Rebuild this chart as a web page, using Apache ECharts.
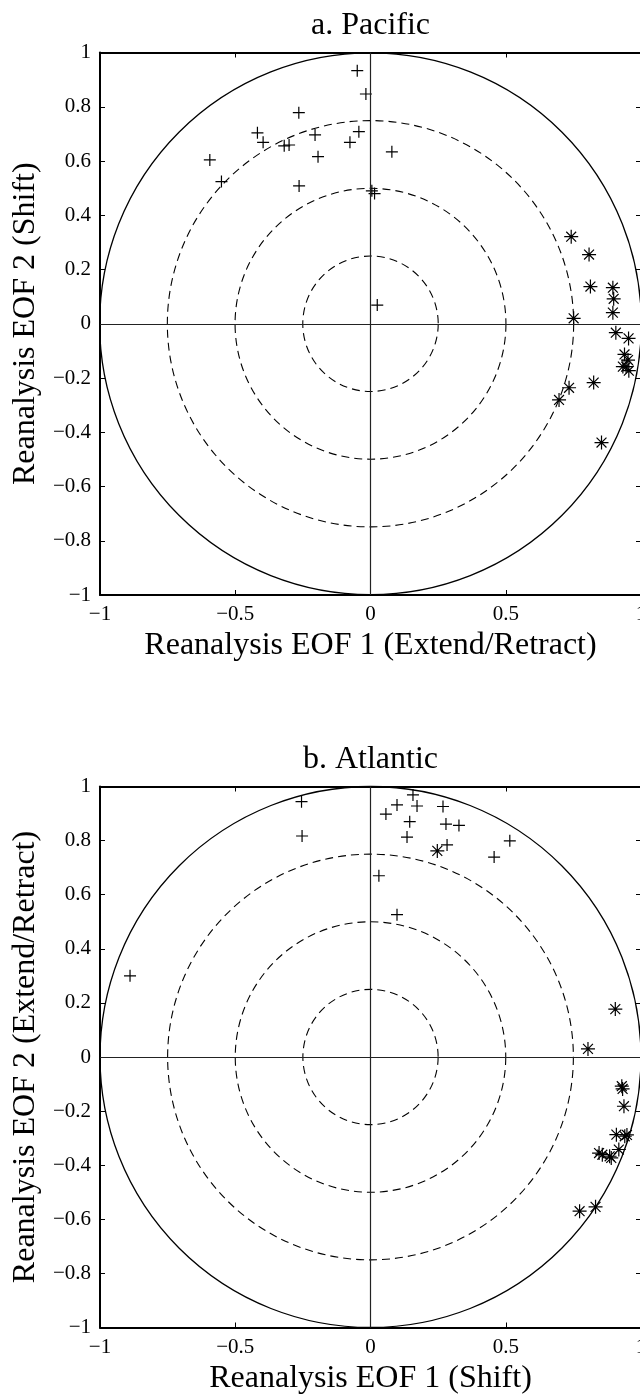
<!DOCTYPE html>
<html><head><meta charset="utf-8">
<script src="https://cdn.jsdelivr.net/npm/echarts@6/dist/echarts.min.js"></script>
<style>html,body{margin:0;padding:0;background:#fff}#c{width:640px;height:1395px}</style>
</head><body><div id="c"></div>
<script>
// ---- text ----
const panelTitles = ['a. Pacific', 'b. Atlantic'];
const xAxisNames = ['Reanalysis EOF 1 (Extend/Retract)', 'Reanalysis EOF 1 (Shift)'];
const yAxisNames = ['Reanalysis EOF 2 (Shift)', 'Reanalysis EOF 2 (Extend/Retract)'];
// ---- axis ticks ----
const axisMin = -1, axisMax = 1;
const xTickStep = 0.5;   // ticks -1, -0.5, 0, 0.5, 1
const yTickStep = 0.2;   // ticks -1, -0.8 ... 1
// ---- reference circles ----
const dashedRadii = [0.25, 0.5, 0.75];
const solidRadii = [1];
// ---- data: [EOF1, EOF2] ----
const pacificPlus = [
  [-0.049, 0.933], [-0.017, 0.847], [-0.265, 0.778], [-0.418, 0.704], [-0.397, 0.669],
  [-0.319, 0.656], [-0.301, 0.659], [-0.205, 0.696], [-0.194, 0.616], [-0.043, 0.708],
  [-0.076, 0.669], [0.079, 0.634], [-0.594, 0.604], [-0.551, 0.524], [-0.264, 0.508],
  [0.005, 0.490], [0.015, 0.480], [0.025, 0.069]
];
const pacificStar = [
  [0.742, 0.321], [0.808, 0.255], [0.813, 0.137], [0.896, 0.133], [0.899, 0.092],
  [0.896, 0.041], [0.751, 0.020], [0.907, -0.033], [0.954, -0.054], [0.939, -0.113],
  [0.952, -0.134], [0.933, -0.158], [0.945, -0.158], [0.955, -0.173], [0.734, -0.236],
  [0.697, -0.281], [0.825, -0.217], [0.854, -0.438]
];
const atlanticPlus = [
  [0.157, 0.969], [0.098, 0.932], [0.172, 0.928], [0.057, 0.898], [0.268, 0.926],
  [0.145, 0.870], [0.279, 0.861], [0.327, 0.856], [0.135, 0.813], [0.283, 0.784],
  [0.515, 0.799], [0.457, 0.739], [0.031, 0.670], [0.098, 0.526], [-0.255, 0.944],
  [-0.253, 0.817], [-0.889, 0.300]
];
const atlanticStar = [
  [0.247, 0.762], [0.905, 0.177], [0.804, 0.030], [0.929, -0.108], [0.932, -0.118],
  [0.937, -0.182], [0.909, -0.287], [0.940, -0.293], [0.948, -0.288], [0.918, -0.342],
  [0.845, -0.355], [0.857, -0.361], [0.884, -0.367], [0.890, -0.373], [0.773, -0.570],
  [0.832, -0.554]
];
const panels = [
  { plus: pacificPlus, star: pacificStar },
  { plus: atlanticPlus, star: atlanticStar }
];

// ---- styling / layout ----
const FONT = "'Liberation Serif','Times New Roman',serif";
const gridBoxes = [
  { left: 100, top: 52.5, width: 541, height: 542.5 },
  { left: 100, top: 786.5, width: 541, height: 541 }
];
const PLUS = 'path://M0,-1L0,1M-1,0L1,0';
const STAR = 'path://M0,-1L0,1M-1,0L1,0M-0.707,-0.707L0.707,0.707M-0.707,0.707L0.707,-0.707';
const fmt = v => String(+(+v).toFixed(2)).replace('-', '\u2212');

const chart = echarts.init(document.getElementById('c'), null, { renderer: 'canvas' });

const grid = [], xAxis = [], yAxis = [], series = [], graphic = [];
panels.forEach((p, i) => {
  grid.push(Object.assign({ containLabel: false, outerBoundsMode: 'none' }, gridBoxes[i]));
  const lineStyle = { color: '#000', width: 2 };
  const tick = { show: true, inside: true, length: 5, lineStyle: { color: '#000', width: 1 } };
  // bottom x
  xAxis.push({
    gridIndex: i, type: 'value', position: 'bottom', min: axisMin, max: axisMax, interval: xTickStep,
    axisLine: { show: true, onZero: false, lineStyle }, axisTick: tick, splitLine: { show: false },
    axisLabel: { show: true, formatter: fmt, fontSize: 21, fontFamily: FONT, color: '#000', margin: 9,
                 showMinLabel: true, showMaxLabel: true, hideOverlap: false },
    name: xAxisNames[i], nameLocation: 'middle', nameGap: 35,
    nameTextStyle: { fontSize: 32, fontFamily: FONT, color: '#000' }
  });
  // top x
  xAxis.push({
    gridIndex: i, type: 'value', position: 'top', min: axisMin, max: axisMax, interval: xTickStep,
    axisLine: { show: true, onZero: false, lineStyle }, axisTick: tick, splitLine: { show: false },
    axisLabel: { show: false }
  });
  // left y
  yAxis.push({
    gridIndex: i, type: 'value', position: 'left', min: axisMin, max: axisMax, interval: yTickStep,
    axisLine: { show: true, onZero: false, lineStyle }, axisTick: tick, splitLine: { show: false },
    axisLabel: { show: true, formatter: fmt, fontSize: 21, fontFamily: FONT, color: '#000', margin: 9,
                 showMinLabel: true, showMaxLabel: true, hideOverlap: false },
    name: yAxisNames[i], nameLocation: 'middle', nameGap: 58,
    nameTextStyle: { fontSize: 32, fontFamily: FONT, color: '#000' }
  });
  // right y
  yAxis.push({
    gridIndex: i, type: 'value', position: 'right', min: axisMin, max: axisMax, interval: yTickStep,
    axisLine: { show: true, onZero: false, lineStyle }, axisTick: tick, splitLine: { show: false },
    axisLabel: { show: false }
  });
  const xi = i * 2, yi = i * 2;
  const ringSeries = (radii, dash, name) => ({
    type: 'custom', name, xAxisIndex: xi, yAxisIndex: yi, silent: true, z: 1,
    data: radii.map(r => [r, 0]),
    encode: { x: 0, y: 1 },
    renderItem: (params, api) => {
      const c = api.coord([0, 0]);
      const s = api.size([api.value(0), api.value(0)]);
      return {
        type: 'circle',
        shape: { cx: c[0], cy: c[1], r: (s[0] + s[1]) / 2 },
        style: { fill: 'none', stroke: '#000', lineWidth: dash ? 1.1 : 1.3, lineDash: dash ? [8, 5] : null }
      };
    }
  });
  series.push(ringSeries(dashedRadii, true, 'dashed' + i));
  series.push(ringSeries(solidRadii, false, 'solid' + i));
  series.push({
    type: 'scatter', xAxisIndex: xi, yAxisIndex: yi, z: 3,
    symbol: PLUS, symbolSize: 12, data: p.plus,
    itemStyle: { color: 'transparent', borderColor: '#000', borderWidth: 1.2, opacity: 1 },
    emphasis: { disabled: true },
    markLine: {
      silent: true, symbol: 'none', label: { show: false }, animation: false,
      lineStyle: { type: 'solid', color: '#222', width: 1.2 },
      data: [{ xAxis: 0 }, { yAxis: 0 }]
    }
  });
  series.push({
    type: 'scatter', xAxisIndex: xi, yAxisIndex: yi, z: 3,
    symbol: STAR, symbolSize: 14, data: p.star,
    itemStyle: { color: 'transparent', borderColor: '#000', borderWidth: 1.2, opacity: 1 },
    emphasis: { disabled: true }
  });
  const g = gridBoxes[i];
  graphic.push({
    type: 'text', x: g.left + g.width / 2, y: g.top - 11,
    style: { text: panelTitles[i], font: '32px ' + FONT, fill: '#000', align: 'center', verticalAlign: 'bottom' }
  });
});

chart.setOption({
  animation: false,
  backgroundColor: '#fff',
  grid, xAxis, yAxis, series, graphic
});
</script>
</body></html>
